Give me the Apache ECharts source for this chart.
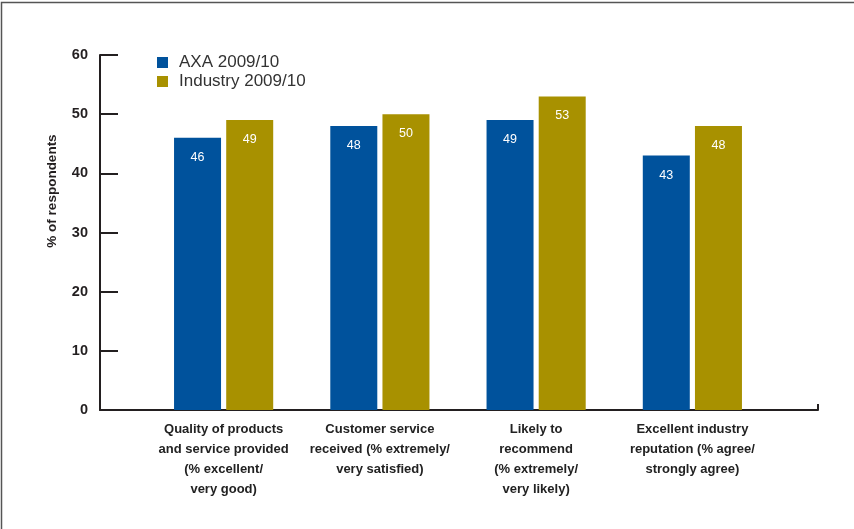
<!DOCTYPE html>
<html>
<head>
<meta charset="utf-8">
<script src="https://cdn.jsdelivr.net/npm/echarts@6/dist/echarts.min.js"></script>
<style>
  html, body { margin: 0; padding: 0; background: #fff; }
  #chart { width: 854px; height: 529px; }
</style>
</head>
<body>
<div id="chart"></div>
<script>
// Survey results: AXA vs industry, 2009/10
const categories = [
  'Quality of products\nand service provided\n(% excellent/\nvery good)',
  'Customer service\nreceived (% extremely/\nvery satisfied)',
  'Likely to\nrecommend\n(% extremely/\nvery likely)',
  'Excellent industry\nreputation (% agree/\nstrongly agree)'
];
const axaValues = [46, 48, 49, 43];
const industryValues = [49, 50, 53, 48];
const seriesNames = ['AXA 2009/10', 'Industry 2009/10'];
const yTicks = { min: 0, max: 60, interval: 10 };

const BLUE = '#00529c';
const GOLD = '#a89100';
const INK = '#231f20';

const chart = echarts.init(document.getElementById('chart'), null, { renderer: 'canvas' });

const barLabel = {
  show: true,
  position: 'insideTop',
  distance: 13,
  color: '#fff',
  fontSize: 12.5,
  fontFamily: 'Liberation Sans, Arial, sans-serif'
};

chart.setOption({
  animation: false,
  backgroundColor: '#fff',
  graphic: [
    {
      type: 'rect',
      shape: { x: 1.5, y: 2.5, width: 900, height: 600 },
      style: { fill: 'none', stroke: '#555', lineWidth: 1.5 },
      silent: true
    },
    {
      type: 'text',
      x: 52, y: 191,
      rotation: Math.PI / 2,
      style: {
        text: '% of respondents',
        fill: INK,
        font: 'bold 13.5px "Liberation Sans", Arial, sans-serif',
        align: 'center',
        verticalAlign: 'middle'
      }
    }
  ],
  legend: {
    data: seriesNames,
    orient: 'vertical',
    left: 152,
    top: 49,
    itemWidth: 11,
    itemHeight: 11,
    itemGap: 2,
    icon: 'rect',
    textStyle: {
      color: '#333',
      fontSize: 17,
      lineHeight: 17,
      fontFamily: 'Liberation Sans, Arial, sans-serif',
      padding: [0, 0, 0, 6]
    }
  },
  grid: [
    { left: 100, right: 36, top: 55, bottom: 119 },
    { left: 145.5, right: 83.5, top: 55, bottom: 119 }
  ],
  xAxis: [
    {
      gridIndex: 0,
      type: 'value',
      min: 0, max: 1, interval: 1,
      axisLine: { show: true, lineStyle: { color: INK, width: 2 } },
      axisTick: { show: true, inside: true, length: 6, lineStyle: { color: INK, width: 2 } },
      axisLabel: { show: false },
      splitLine: { show: false }
    },
    {
      gridIndex: 1,
      type: 'category',
      data: categories,
      axisLine: { show: false },
      axisTick: { show: false },
      axisLabel: {
        margin: 10,
        color: '#222',
        fontSize: 13,
        fontWeight: 'bold',
        lineHeight: 19.7,
        fontFamily: '"Liberation Sans Narrow", "Liberation Sans", Arial, sans-serif',
        interval: 0
      }
    }
  ],
  yAxis: [
    {
      gridIndex: 0,
      type: 'value',
      min: yTicks.min, max: yTicks.max, interval: yTicks.interval,
      axisLine: { show: true, lineStyle: { color: INK, width: 2 } },
      axisTick: { show: true, inside: true, length: 18, lineStyle: { color: INK, width: 2 } },
      axisLabel: {
        margin: 12,
        color: INK,
        fontSize: 14.5,
        fontWeight: 'bold',
        fontFamily: 'Liberation Sans, Arial, sans-serif',
        verticalAlign: 'middle',
        padding: [0, 0, 14, 0]
      },
      splitLine: { show: false }
    },
    {
      gridIndex: 1,
      type: 'value',
      min: yTicks.min, max: yTicks.max, interval: yTicks.interval,
      show: false
    }
  ],
  series: [
    {
      name: seriesNames[0],
      type: 'bar',
      xAxisIndex: 1, yAxisIndex: 1,
      data: axaValues,
      barWidth: 47,
      barGap: '11%',
      itemStyle: { color: BLUE },
      label: barLabel
    },
    {
      name: seriesNames[1],
      type: 'bar',
      xAxisIndex: 1, yAxisIndex: 1,
      data: industryValues,
      barWidth: 47,
      barGap: '11%',
      itemStyle: { color: GOLD },
      label: barLabel
    }
  ]
});
</script>
</body>
</html>
